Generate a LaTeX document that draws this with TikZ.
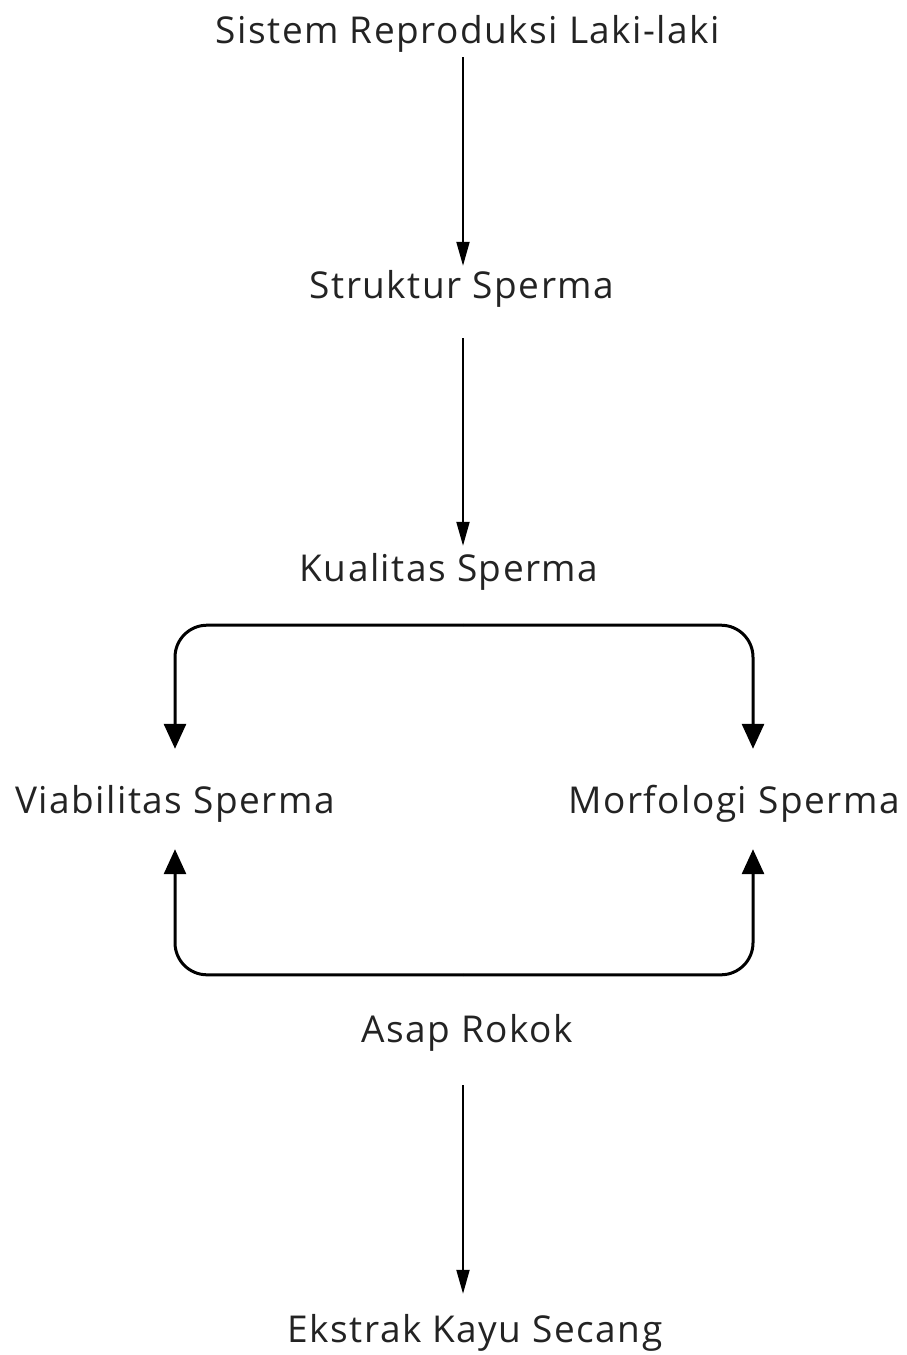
\documentclass[tikz,border=0pt]{standalone}
\usepackage{fontspec}
\setmainfont{Open Sans}[LetterSpace=4]
\usetikzlibrary{arrows.meta,calc}
\definecolor{txt}{HTML}{232323}
\tikzset{
  lbl/.style={anchor=base, inner sep=0pt, text height=26pt, text depth=8pt, text=txt, font=\fontsize{37}{43}\selectfont},
  thinarrow/.style={draw=black, line width=2pt, -{Triangle[width=13pt,length=24pt]}},
  bigarrow/.style={draw=black, line width=3pt, rounded corners=32pt, -{Triangle[width=22pt,length=25pt]}},
}
\begin{document}
\begin{tikzpicture}[x=1pt,y=-1pt]
\useasboundingbox (0,0) rectangle (906,1355);
\node[lbl] (sys) at (468,43) {Sistem Reproduksi Laki-laki};
\node[lbl] (str) at (462,298) {Struktur Sperma};
\node[lbl] (kua) at (449,581) {Kualitas Sperma};
\node[lbl] (via) at (175,813) {Viabilitas Sperma};
\node[lbl] (mor) at (734,813) {Morfologi Sperma};
\node[lbl] (asa) at (467,1042) {Asap Rokok};
\node[lbl] (eks) at (475,1342) {Ekstrak Kayu Secang};
\coordinate (ax) at (463,0);
\coordinate (rx) at (753,0);
% south = base + 8, north = base - 26
\draw[thinarrow] ($(sys.south -| ax)+(0,6)$) -- ($(str.north -| ax)+(0,-6)$);
\draw[thinarrow] ($(str.south -| ax)+(0,32)$) -- ($(kua.north -| ax)+(0,-9)$);
\draw[thinarrow] ($(asa.south -| ax)+(0,35)$) -- ($(eks.north -| ax)+(0,-22)$);
\draw[bigarrow] ($(kua.south -| ax)+(0,36)$) -| ($(via.north)+(0,-38)$);
\draw[bigarrow] ($(kua.south -| ax)+(0,36)$) -| ($(mor.north -| rx)+(0,-38)$);
\draw[bigarrow] ($(asa.north -| ax)+(0,-41)$) -| ($(via.south)+(0,28)$);
\draw[bigarrow] ($(asa.north -| ax)+(0,-41)$) -| ($(mor.south -| rx)+(0,28)$);
\end{tikzpicture}
\end{document}
